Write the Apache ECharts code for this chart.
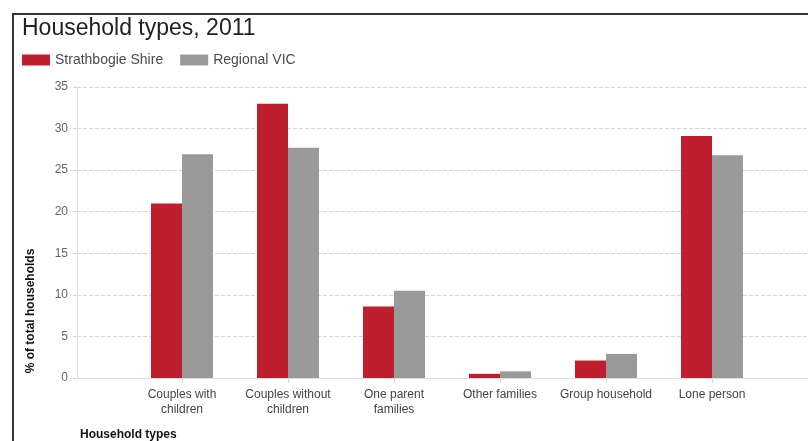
<!DOCTYPE html>
<html>
<head>
<meta charset="utf-8">
<script src="https://cdn.jsdelivr.net/npm/echarts@6/dist/echarts.min.js"></script>
<style>html,body{margin:0;padding:0;background:#fff;}#c{width:808px;height:441px;}</style>
</head>
<body>
<div id="c"></div>
<script>
var categories = ['Couples with\nchildren', 'Couples without\nchildren', 'One parent\nfamilies', 'Other families', 'Group household', 'Lone person'];
var strathbogie = [21.0, 33.0, 8.6, 0.5, 2.1, 29.1];
var regionalVic = [26.9, 27.7, 10.5, 0.8, 2.9, 26.8];
var yTicks = [0, 5, 10, 15, 20, 25, 30, 35];

var font = 'Liberation Sans, Arial, sans-serif';
var chart = echarts.init(document.getElementById('c'), null, {renderer: 'canvas'});
chart.setOption({
  animation: false,
  textStyle: {fontFamily: font},
  title: {
    text: 'Household types, 2011',
    left: 22, top: 17, padding: 0,
    textStyle: {fontFamily: font, fontSize: 23, fontWeight: 'normal', color: '#222'}
  },
  legend: {
    left: 22, top: 53, padding: 0,
    itemWidth: 28, itemHeight: 11, itemGap: 17,
    icon: 'rect',
    textStyle: {fontFamily: font, fontSize: 14, color: '#4a4a58'},
    data: ['Strathbogie Shire', 'Regional VIC']
  },
  grid: [
    {left: 129, width: 636, top: 87, height: 291},
    {left: 77, right: 0, top: 87, height: 291}
  ],
  xAxis: [
    {
      type: 'category', gridIndex: 0, data: categories,
      axisLine: {show: false},
      axisTick: {show: true, alignWithLabel: true, length: 5, lineStyle: {color: '#d8d8d8'}},
      axisLabel: {fontFamily: font, fontSize: 12, color: '#444', margin: 9, lineHeight: 15, interval: 0}
    },
    {
      type: 'value', gridIndex: 1, min: 0, max: 1,
      axisLine: {show: true, lineStyle: {color: '#dcdcdc', width: 1}},
      axisTick: {show: false}, axisLabel: {show: false}, splitLine: {show: false}
    }
  ],
  yAxis: [
    {type: 'value', gridIndex: 0, min: 0, max: 35, interval: 5, show: false, splitLine: {show: false}},
    {
      type: 'value', gridIndex: 1, min: yTicks[0], max: yTicks[yTicks.length - 1], interval: 5,
      axisLine: {show: true, lineStyle: {color: '#e4e4e4'}},
      axisTick: {show: true, length: 7, lineStyle: {color: '#d4d4d4', type: 'dashed'}},
      axisLabel: {fontFamily: font, fontSize: 12, color: '#666', margin: 9},
      splitLine: {show: true, lineStyle: {color: '#d4d4d4', type: 'dashed', width: 1}}
    }
  ],
  series: [
    {name: 'Strathbogie Shire', type: 'bar', xAxisIndex: 0, yAxisIndex: 0, data: strathbogie,
     barWidth: 31, barGap: '0%', itemStyle: {color: '#BE1E2D'}},
    {name: 'Regional VIC', type: 'bar', xAxisIndex: 0, yAxisIndex: 0, data: regionalVic,
     barWidth: 31, barGap: '0%', itemStyle: {color: '#9A9A9A'}}
  ],
  graphic: [
    {type: 'line', shape: {x1: 12, y1: 14, x2: 808, y2: 14}, style: {stroke: '#333', lineWidth: 2}},
    {type: 'line', shape: {x1: 13, y1: 13, x2: 13, y2: 441}, style: {stroke: '#333', lineWidth: 2}},
    {type: 'text', x: 31, y: 311, rotation: Math.PI / 2,
     style: {text: '% of total households', fontFamily: font, fontSize: 12, fontWeight: 'bold', fill: '#111',
             textAlign: 'center', textVerticalAlign: 'middle'}},
    {type: 'text', x: 80, y: 435,
     style: {text: 'Household types', fontFamily: font, fontSize: 12, fontWeight: 'bold', fill: '#111',
             textAlign: 'left', textVerticalAlign: 'middle'}}
  ]
});
</script>
</body>
</html>
